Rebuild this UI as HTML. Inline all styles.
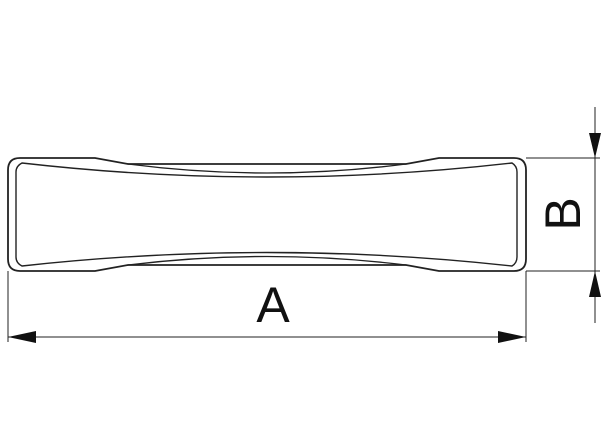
<!DOCTYPE html>
<html><head><style>body{margin:0;background:#fff}svg{display:block}</style></head><body>
<svg width="610" height="426" viewBox="0 0 610 426" xmlns="http://www.w3.org/2000/svg" fill="none" stroke="#222">
<!-- outer contour -->
<path d="M20,158 L95,158 L128,164 L406,164 L439,158 L514,158 Q526,158 526,170 L526,259 Q526,271 514,271 L439,271 L406,265 L128,265 L95,271 L20,271 Q8,271 8,259 L8,170 Q8,158 20,158 Z" stroke-width="1.8"/>
<!-- surface curves -->
<path d="M128,164 Q267,182 406,164" stroke-width="1.3"/>
<path d="M128,265 Q267,248 406,265" stroke-width="1.3"/>
<!-- inner contour -->
<path d="M22,163 Q267,191 512,163 Q517,166 517,172 L517,257 Q517,263 512,266 Q267,239 22,266 Q16,263 16,257 L16,172 Q16,166 22,163 Z" stroke-width="1.4"/>
<!-- extension lines -->
<g stroke-width="1">
<line x1="526" y1="158" x2="600" y2="158"/>
<line x1="526" y1="271" x2="600" y2="271"/>
<line x1="595" y1="107" x2="595" y2="323"/>
<line x1="8" y1="271" x2="8" y2="342"/>
<line x1="526" y1="271" x2="526" y2="342"/>
<line x1="8" y1="337" x2="526" y2="337"/>
</g>
<g fill="#111" stroke="none">
<polygon points="595,158 589,133 601,133"/>
<polygon points="595,271 589,297 601,297"/>
<polygon points="8,337 36,331 36,343"/>
<polygon points="526,337 498,331 498,343"/>
</g>
<text x="273" y="322" font-family="Liberation Sans, sans-serif" font-size="50" fill="#111" stroke="none" text-anchor="middle">A</text>
<text transform="translate(580,214) rotate(-90)" font-family="Liberation Sans, sans-serif" font-size="50" fill="#111" stroke="none" text-anchor="middle">B</text>
</svg>
</body></html>
